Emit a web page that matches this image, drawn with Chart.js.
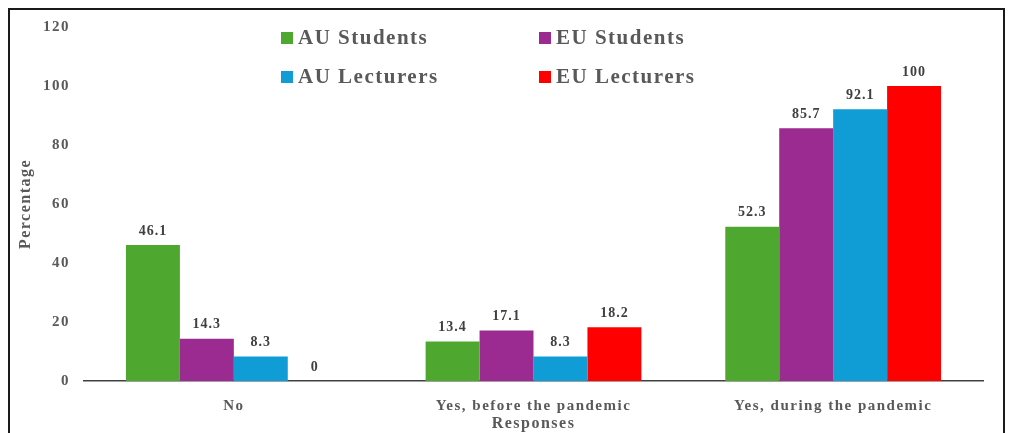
<!DOCTYPE html>
<html>
<head>
<meta charset="utf-8">
<script src="https://cdn.jsdelivr.net/npm/chart.js@4"></script>
<style>
  html, body { margin: 0; padding: 0; background: #fff; }
  #wrap { width: 1009px; height: 433px; }
</style>
</head>
<body>
<div id="wrap"><canvas id="grafico" width="1009" height="433"></canvas></div>
<script>
// dati
const categorie = ['No', 'Yes, before the pandemic', 'Yes, during the pandemic'];
const etichette = ['AU Students', 'EU Students', 'AU Lecturers', 'EU Lecturers'];
const auStudents = [46.1, 13.4, 52.3];
const euStudents = [14.3, 17.1, 85.7];
const auLecturers = [8.3, 8.3, 92.1];
const euLecturers = [0, 18.2, 100];
const colori = ['#4ea72e', '#9b2a91', '#109dd6', '#ff0000'];

const serie = [auStudents, euStudents, auLecturers, euLecturers];
const serif = "'Liberation Serif', 'Times New Roman', serif";

// testo degli assi un po' spaziato
const spaziatura = {
    id: 'spaziatura',
    beforeLayout(chart) { chart.ctx.letterSpacing = '1.5px'; },
    beforeDraw(chart) { chart.ctx.letterSpacing = '1.5px'; }
};

// cornice nera attorno al grafico
const cornice = {
    id: 'cornice',
    afterDraw(chart) {
        const ctx = chart.ctx;
        ctx.save();
        ctx.strokeStyle = '#1a1a1a';
        ctx.lineWidth = 2;
        ctx.strokeRect(9, 9, 995, 500);
        ctx.restore();
    }
};

// valori sopra le barre
const valori = {
    id: 'valori',
    afterDatasetsDraw(chart) {
        const ctx = chart.ctx;
        ctx.save();
        ctx.letterSpacing = '1px';
        ctx.font = 'bold 14px ' + serif;
        ctx.fillStyle = '#404040';
        ctx.textAlign = 'center';
        ctx.textBaseline = 'bottom';
        chart.data.datasets.forEach((ds, i) => {
            chart.getDatasetMeta(i).data.forEach((bar, j) => {
                ctx.fillText(String(ds.data[j]), bar.x, bar.y - 7);
            });
        });
        ctx.restore();
    }
};

// legenda su due righe dentro l'area del grafico
const legenda = {
    id: 'legenda',
    afterDraw(chart) {
        const ctx = chart.ctx;
        const colonne = [281, 539];
        const righe = [38, 77];
        ctx.save();
        ctx.letterSpacing = '1.5px';
        ctx.font = 'bold 21px ' + serif;
        ctx.textBaseline = 'middle';
        chart.data.datasets.forEach((ds, i) => {
            const x = colonne[i % 2];
            const y = righe[Math.floor(i / 2)];
            ctx.fillStyle = ds.backgroundColor;
            ctx.fillRect(x, y - 6, 12, 12);
            ctx.fillStyle = '#595959';
            ctx.fillText(ds.label, x + 17, y + 1);
        });
        ctx.restore();
    }
};

const ctx = document.getElementById('grafico').getContext('2d');
new Chart(ctx, {
    type: 'bar',
    data: {
        labels: categorie,
        datasets: serie.map((dati, i) => ({
            label: etichette[i],
            data: dati,
            backgroundColor: colori[i],
            borderWidth: 0,
            categoryPercentage: 0.72,
            barPercentage: 1
        }))
    },
    options: {
        responsive: false,
        animation: false,
        layout: { padding: { left: 0, right: 26, top: 27, bottom: 0 } },
        plugins: {
            legend: { display: false },
            tooltip: { enabled: false }
        },
        scales: {
            x: {
                grid: { display: false, drawTicks: false },
                border: { display: true, color: '#404040', width: 1.5 },
                ticks: {
                    padding: 16,
                    color: '#595959',
                    font: { family: serif, size: 15, weight: 'bold' },
                    maxRotation: 0
                },
                title: {
                    display: true,
                    text: 'Responses',
                    color: '#595959',
                    font: { family: serif, size: 16, weight: 'bold' },
                    padding: { top: 0, bottom: 0 }
                },
                afterFit(scala) { scala.height = 52; }
            },
            y: {
                min: 0,
                max: 120,
                grid: { display: false, drawTicks: false },
                border: { display: false },
                ticks: {
                    stepSize: 20,
                    padding: 14,
                    color: '#595959',
                    font: { family: serif, size: 15, weight: 'bold' }
                },
                title: {
                    display: true,
                    text: 'Percentage',
                    color: '#595959',
                    font: { family: serif, size: 16, weight: 'bold' },
                    padding: { top: 16, bottom: 0 }
                },
                afterFit(scala) { scala.width = 84; }
            }
        }
    },
    plugins: [spaziatura, cornice, valori, legenda]
});
</script>
</body>
</html>
